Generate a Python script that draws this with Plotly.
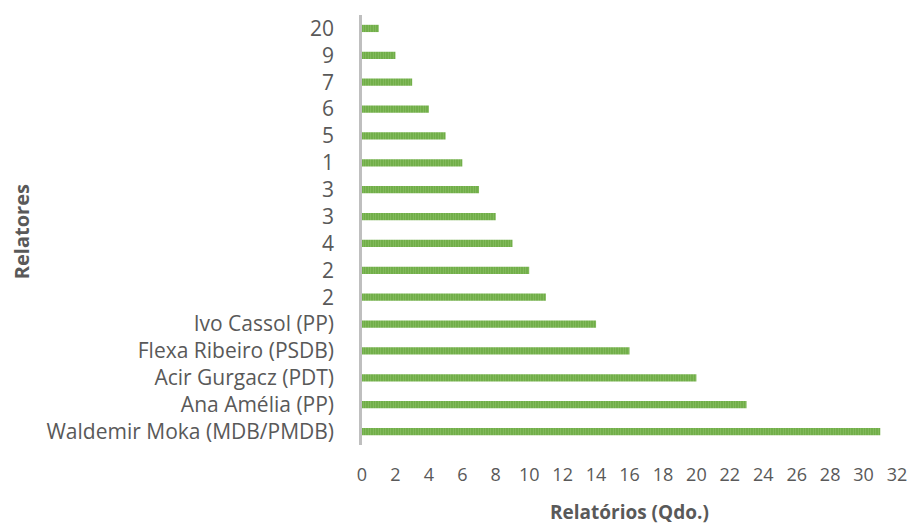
import plotly.graph_objects as go

categories = ["Waldemir Moka (MDB/PMDB)", "Ana Amélia (PP)", "Acir Gurgacz (PDT)",
              "Flexa Ribeiro (PSDB)", "Ivo Cassol (PP)", "2", "2", "4", "3", "3",
              "1", "5", "6", "7", "9", "20"]
values = [31, 23, 20, 16, 14, 11, 10, 9, 8, 7, 6, 5, 4, 3, 2, 1]
x_ticks = list(range(0, 33, 2))

positions = list(range(len(categories)))

fig = go.Figure(go.Bar(
    x=values, y=positions, orientation="h", width=0.27,
    marker=dict(color="#70AD47", line=dict(width=0),
                pattern=dict(shape="|", fgcolor="#9fd07f", bgcolor="#70AD47",
                             size=2.5, solidity=0.35)),
    hoverinfo="x+text", text=categories, textposition="none",
))

font_family = "Open Sans, Liberation Sans, sans-serif"
fig.update_layout(
    width=912, height=525,
    margin=dict(l=362, r=15, t=15, b=80, autoexpand=False),
    paper_bgcolor="white", plot_bgcolor="white",
    showlegend=False,
    font=dict(family=font_family, color="#595959", size=18),
    xaxis=dict(range=[0, 32], tickvals=x_ticks, showgrid=False, zeroline=False,
               showline=False, ticks="", tickfont=dict(size=18), ticklabelstandoff=17,
               automargin=False),
    yaxis=dict(range=[-0.5, 15.5], tickvals=positions, ticktext=categories,
               showgrid=False, zeroline=False, showline=True, linecolor="#BFBFBF",
               linewidth=2.5, ticks="", tickfont=dict(size=21), ticklabelstandoff=21,
               automargin=False),
    annotations=[
        dict(text="<b>Relatórios (Qdo.)</b>", xref="paper", yref="paper",
             x=0.5, y=-(512 - 445) / 430, xanchor="center", yanchor="middle",
             showarrow=False, font=dict(size=19, color="#595959")),
        dict(text="<b>Relatores</b>", xref="paper", yref="paper",
             x=-(362 - 21) / 535, y=0.495, xanchor="center", yanchor="middle",
             textangle=-90, showarrow=False, font=dict(size=20, color="#595959")),
    ],
)
fig.write_html("out.html")
